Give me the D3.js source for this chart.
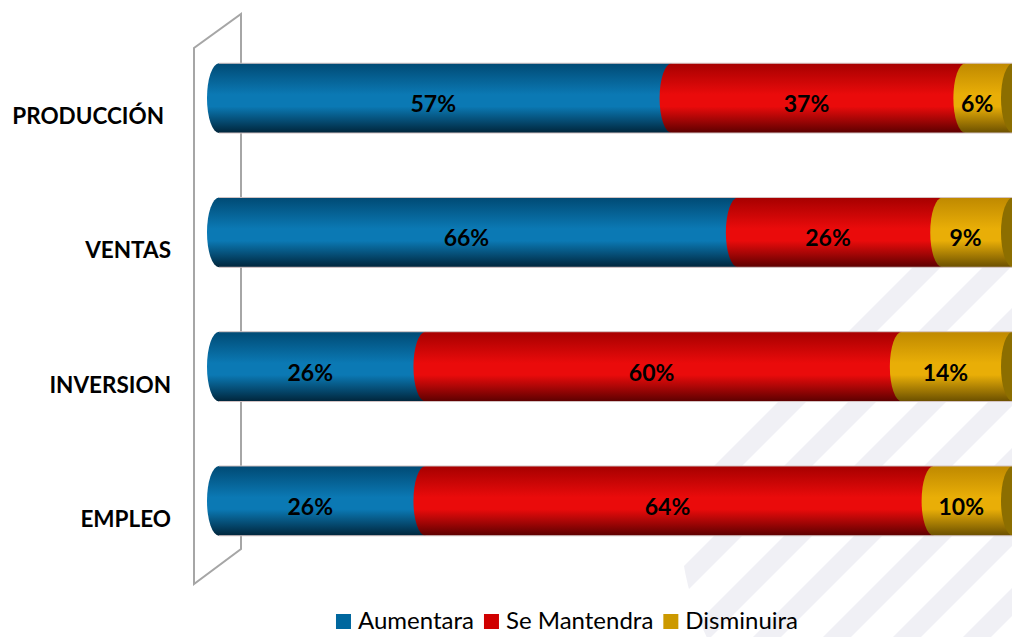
<!DOCTYPE html>
<html>
<head>
<meta charset="utf-8">
<script src="https://cdn.jsdelivr.net/npm/d3@7"></script>
<style>
    html, body { margin: 0; padding: 0; background: #fff; }
    svg { display: block; }
</style>
</head>
<body>
<svg id="chart" width="1012" height="637"></svg>
<script>
// chart data
const categories = ["PRODUCCIÓN ", "VENTAS", "INVERSION", "EMPLEO"];
const seriesNames = ["Aumentara", "Se Mantendra", "Disminuira"];
const aumentara   = [57, 66, 26, 26];
const seMantendra = [37, 26, 60, 64];
const disminuira  = [6, 9, 14, 10];

const width = 1012, height = 637;
const rx = 12;   // half width of the cylinder end ellipse

const rows = categories.map((c, i) => ({
    cat: c,
    "Aumentara": aumentara[i],
    "Se Mantendra": seMantendra[i],
    "Disminuira": disminuira[i]
}));

// 100% stacked
const stacked = d3.stack().keys(seriesNames).offset(d3.stackOffsetExpand)(rows);

const x = d3.scaleLinear().domain([0, 1]).range([219, 1013]);
const y = d3.scaleBand().domain(categories).range([31, 568])
    .paddingInner(0.48).paddingOuter(0.24);

const shades = {
    "Aumentara":    {top: "#004a74", mid: "#0b79b4", bot: "#00253b", key: "#00679e"},
    "Se Mantendra": {top: "#a60000", mid: "#ea0b0b", bot: "#5c0000", key: "#d00000"},
    "Disminuira":   {top: "#bf8900", mid: "#e9ae07", bot: "#6a4f00", key: "#cc9900", cap: "#8c6e00"}
};

const svg = d3.select("#chart");
const defs = svg.append("defs");

seriesNames.forEach((s, i) => {
    const g = defs.append("linearGradient")
        .attr("id", "grad" + i)
        .attr("x1", 0).attr("y1", 0).attr("x2", 0).attr("y2", 1);
    g.append("stop").attr("offset", "0%").attr("stop-color", shades[s].top);
    g.append("stop").attr("offset", "45%").attr("stop-color", shades[s].mid);
    g.append("stop").attr("offset", "62%").attr("stop-color", shades[s].mid);
    g.append("stop").attr("offset", "100%").attr("stop-color", shades[s].bot);
});

// faint watermark behind the plot
defs.append("clipPath").attr("id", "wmClip")
    .append("circle").attr("cx", 950).attr("cy", 520).attr("r", 270);
const wm = svg.append("g").attr("clip-path", "url(#wmClip)").attr("fill", "#f0f0f5");
d3.range(1180, 1700, 70).forEach(c => {
    const w = 28;
    wm.append("path").attr("d",
        "M" + (c - 700) + "," + 700 + " L" + (c + 100) + "," + (-100) +
        " L" + (c + 100 + w) + "," + (-100) + " L" + (c - 700 + w) + "," + 700 + "Z");
});

// 3D wall outline
const wall = svg.append("g")
    .attr("fill", "none").attr("stroke", "#a6a6a6").attr("stroke-width", 2);
wall.append("path").attr("d", "M194,584 L194,48 L241,14 L241,549 Z");

// cylinders
const bars = svg.append("g");
stacked.forEach((layer, si) => {
    const s = layer.key;
    const isLast = si === stacked.length - 1;
    layer.forEach(d => {
        const cat = d.data.cat;
        const y0 = y(cat), h = y.bandwidth(), ry = h / 2;
        const xa = x(d[0]), xb = x(d[1]);
        const p = d3.path();
        p.moveTo(xa, y0);
        p.lineTo(xb, y0);
        p.lineTo(xb, y0 + h);
        p.lineTo(xa, y0 + h);
        // left bulge of this segment
        const path = p.toString() +
            " A" + rx + "," + ry + " 0 0 1 " + xa + "," + y0 + "Z";
        bars.append("path")
            .attr("d", path)
            .attr("fill", "url(#grad" + si + ")");
        if (isLast) {
            bars.append("ellipse")
                .attr("cx", xb).attr("cy", y0 + ry)
                .attr("rx", rx).attr("ry", ry)
                .attr("fill", shades[s].cap);
        }
    });
});

// light outline along top and bottom of each bar
categories.forEach(c => {
    [y(c), y(c) + y.bandwidth()].forEach(yy => {
        bars.append("line")
            .attr("x1", x(0)).attr("x2", x(1))
            .attr("y1", yy).attr("y2", yy)
            .attr("stroke", "#d4c4c4").attr("stroke-width", 1);
    });
});

// value labels
const labels = svg.append("g")
    .style("font", "bold 23px Lato, 'Open Sans', sans-serif")
    .attr("text-anchor", "middle").attr("fill", "#000");
const valueArrays = [aumentara, seMantendra, disminuira];
stacked.forEach((layer, si) => {
    layer.forEach((d, i) => {
        labels.append("text")
            .attr("x", x((d[0] + d[1]) / 2) - rx)
            .attr("y", y(d.data.cat) + y.bandwidth() / 2 + 6)
            .attr("dy", "0.35em")
            .text(valueArrays[si][i] + "%");
    });
});

// category labels
svg.append("g")
    .style("font", "bold 22.5px Lato, 'Open Sans', sans-serif")
    .attr("text-anchor", "end").attr("fill", "#000")
    .selectAll("text").data(categories).join("text")
    .attr("x", c => c.endsWith(" ") ? 164 : 171)
    .attr("y", c => y(c) + y.bandwidth() / 2 + 18)
    .attr("dy", "0.35em")
    .text(c => c.trim());

// legend
const legendY = 621;
const legend = svg.append("g");
let lx = 0;
seriesNames.forEach(s => {
    const g = legend.append("g");
    g.append("rect").attr("x", 0).attr("y", -7).attr("width", 15).attr("height", 15)
        .attr("fill", shades[s].key);
    const t = g.append("text").attr("x", 22).attr("dy", "0.35em")
        .style("font", "24px Lato, 'Open Sans', sans-serif").attr("fill", "#000")
        .text(s);
    const w = 22 + t.node().getComputedTextLength();
    g.attr("transform", "translate(" + lx + ",0)");
    lx += w + 10;
});
const legendWidth = lx - 10;
legend.attr("transform", "translate(" + (567 - legendWidth / 2) + "," + legendY + ")");
</script>
</body>
</html>
